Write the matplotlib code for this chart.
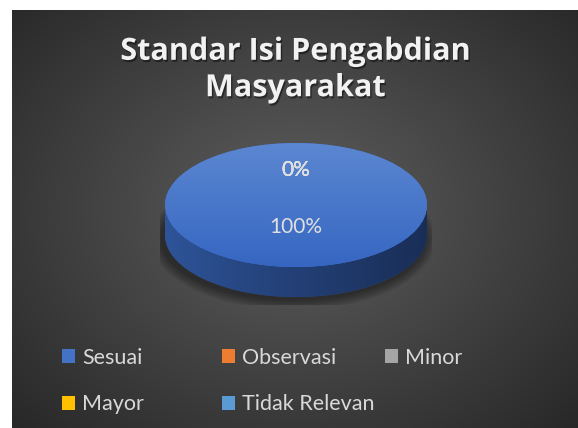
import numpy as np
import matplotlib.pyplot as plt
import matplotlib.patheffects as pe
from matplotlib.path import Path
from matplotlib.patches import PathPatch, Ellipse

# ---------------------------------------------------------------
# data
# ---------------------------------------------------------------
categories = ["Sesuai", "Observasi", "Minor", "Mayor", "Tidak Relevan"]
values = [100, 0, 0, 0, 0]
colors = ["#4472c4", "#ed7d31", "#a5a5a5", "#ffc000", "#5b9bd5"]
side_colors = ["#2b4f91", "#b35e24", "#7c7c7c", "#bf9000", "#4474a0"]
title = "Standar Isi Pengabdian\nMasyarakat"

plt.rcParams['font.family'] = ['Lato', 'DejaVu Sans']

W, H = 578, 428


def fx(px):
    return px / W


def fy(py):
    return 1 - py / H


fig = plt.figure(figsize=(W / 100, H / 100), dpi=100)
fig.patch.set_facecolor('white')

# dark chart area with a soft radial light in the middle
bg = fig.add_axes([fx(12), 0, 1 - fx(12), fy(10)])
bg.set_axis_off()
yy, xx = np.mgrid[0:1:300j, 0:1:400j]
r = np.sqrt(((xx - 0.5) / 0.75) ** 2 + ((yy - 0.48) / 0.8) ** 2)
g = 0.37 - 0.23 * np.clip(r, 0, 1)
bg.imshow(np.dstack([g, g, g]), extent=[0, 1, 0, 1], aspect='auto')
bg.set_xlim(0, 1)
bg.set_ylim(0, 1)

# pie axes, squashed vertically to get the tilted look
ax = fig.add_axes([fx(160), fy(305), fx(432) - fx(160), fy(140) - fy(305)])
depth = 30 / 62

# soft shadow below the disc
for k in range(6):
    ax.add_patch(Ellipse((-0.02, -depth - 0.06), 2.02 + 0.03 * k, 2.0 + 0.06 * k,
                         facecolor='black', edgecolor='none', alpha=0.08, zorder=0.5))

# bottom disc + side band
ax.pie(values, colors=side_colors, radius=1, center=(0, -depth), startangle=90,
       counterclock=False, wedgeprops=dict(linewidth=0, zorder=1))
t = np.linspace(np.pi, 2 * np.pi, 100)
band = np.concatenate([np.c_[np.cos(t), np.sin(t)],
                       np.c_[np.cos(t[::-1]), np.sin(t[::-1]) - depth]])
side = PathPatch(Path(band), facecolor='none', edgecolor='none', zorder=2)
ax.add_patch(side)
gx = np.linspace(0, 1, 200)
grad = np.array([[0.18, 0.33, 0.60], [0.10, 0.18, 0.34]])
side_img = grad[0] + (grad[1] - grad[0]) * gx[:, None] ** 0.9
side_im = ax.imshow(side_img[None, :, :], extent=[-1, 1, -depth - 1, 0.01],
                    aspect='auto', zorder=2)
side_im.set_clip_path(side)

# top face
wedges, texts, autotexts = ax.pie(
    values, colors=colors, startangle=90, counterclock=False,
    autopct=lambda p: f"{p:.0f}%", pctdistance=0.46,
    wedgeprops=dict(linewidth=0, zorder=3),
    textprops=dict(color='#e0e0e0', fontsize=15))
gy = np.linspace(0, 1, 200)
top_grad = np.array([0.36, 0.53, 0.82]) + (np.array([0.21, 0.40, 0.76]) - np.array([0.36, 0.53, 0.82])) * gy[:, None]
top_im = ax.imshow(top_grad[:, None, :], extent=[-1, 1, -1, 1], aspect='auto', zorder=3.5)
top_im.set_clip_path(wedges[0])

for at in autotexts:
    x0, y0 = at.get_position()
    at.set_position((x0, y0 + 0.105))
    at.set_zorder(5)

ax.set_aspect('auto')
ax.set_xlim(-136 / 131, 136 / 131)
ax.set_ylim(-100 / 62, 65 / 62)
ax.set_axis_off()

# title
fig.text(fx(295), fy(70), title, ha='center', va='center', fontsize=22,
         fontweight='bold', color='#f2f2f2', linespacing=1.28,
         family=['Open Sans', 'DejaVu Sans'],
         path_effects=[pe.withSimplePatchShadow(offset=(1, -1.5), shadow_rgbFace='black', alpha=0.45)])

# legend, laid out in fixed columns like the original
columns = [([0, 3], 62), ([1, 4], 222), ([2], 385)]
for idx, xpos in columns:
    fig.legend([wedges[i] for i in idx], [categories[i] for i in idx],
               loc='upper left', bbox_to_anchor=(fx(xpos), fy(348)),
               frameon=False, fontsize=15.5, labelcolor='#d9d9d9',
               handlelength=0.62, handleheight=0.62, handletextpad=0.3,
               borderpad=0, borderaxespad=0, labelspacing=1.23)

fig.savefig("out.png", dpi=100, facecolor='white')
